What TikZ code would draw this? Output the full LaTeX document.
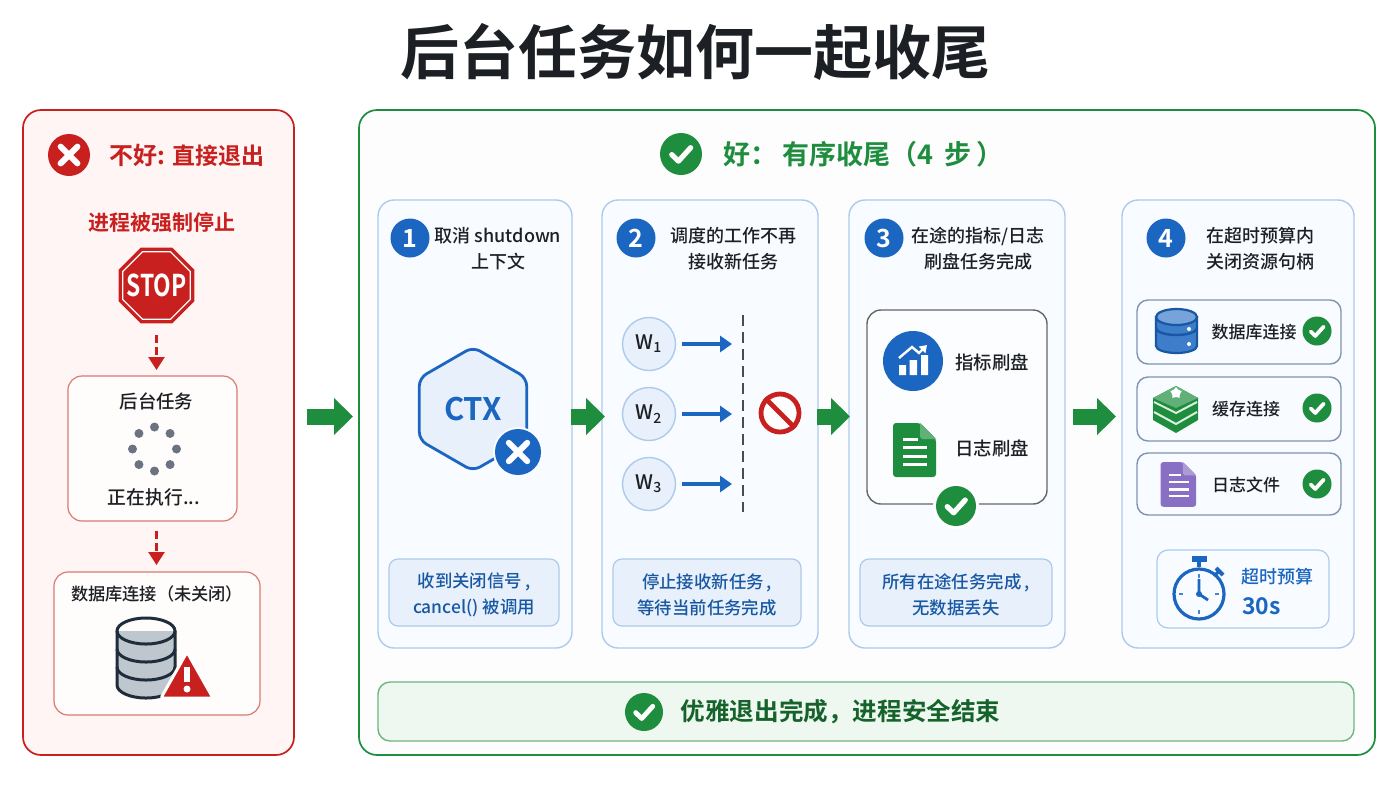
\documentclass[tikz,border=0pt]{standalone}
\usepackage{fontspec}
\setmainfont{Noto Sans CJK SC Medium}[BoldFont={Noto Sans CJK SC Bold}]
\newfontfamily\signfont{Noto Sans CJK SC Bold}[FakeStretch=0.76]
\usepackage{xcolor}
\usetikzlibrary{
    arrows.meta,
    shapes.geometric,
    calc
}
\definecolor{badred}{HTML}{C8201E}
\definecolor{badline}{HTML}{DA7A72}
\definecolor{badfill}{HTML}{FFF5F4}
\definecolor{okgreen}{HTML}{1E8E3E}
\definecolor{stepblue}{HTML}{1B66C0}
\definecolor{stepline}{HTML}{AECAEA}
\definecolor{stepfill}{HTML}{F8FBFF}
\definecolor{notefill}{HTML}{E8F1FB}
\definecolor{inktext}{HTML}{1C1F23}
\definecolor{slateline}{HTML}{7F93AE}
\definecolor{dotgray}{HTML}{6B7280}
\definecolor{dbstroke}{HTML}{1F2D3A}
\definecolor{dbfill}{HTML}{BFC7CE}
\definecolor{filepurple}{HTML}{8A70C4}
\tikzset{
    bigtip /.tip = {Triangle[length=9.5pt,width=18pt]}
  }
\tikzset{
    dashtip /.tip = {Triangle[length=6.5pt,width=8pt]}
  }
\tikzset{
    bluetip /.tip = {Triangle[length=6pt,width=8pt]}
  }
\tikzset{
    wh/.style 2 args={minimum width=#1*0.5pt,minimum height=#2*0.5pt},
    boxnode/.style={draw,rectangle,inner sep=0pt,outer sep=0pt},
    textsize/.style={font=\fontsize{#1}{13}\selectfont,text=inktext,inner sep=0pt,align=center},
    okmark/.pic={
        \fill[okgreen] (0,0) circle (1);
        \draw[white,line cap=round,line join=round] (-0.44,0.03) -- (-0.12,0.34) -- (0.46,-0.3);
      },
    xmark/.pic={
        \fill[#1] (0,0) circle (1);
        \draw[white,line cap=round] (-0.4,-0.4) -- (0.4,0.4) (-0.4,0.4) -- (0.4,-0.4);
      },
    docicon/.pic={
        \fill[#1,rounded corners=1.5pt] (0,0) -- (27,0) -- (43,16) -- (43,54) -- (0,54) -- cycle;
        \fill[#1!70!white] (27,0) -- (43,16) -- (29,16) -- (27,14) -- cycle;
        \draw[white] (10,16) -- (25,16) (10,24) -- (34,24) (10,33) -- (34,33) (10,41) -- (34,41);
      }
  }
\begin{document}
\begin{tikzpicture}[x=0.5pt,y=-0.5pt,
		panel/.style={boxnode,rounded corners=9pt,line width=0.85pt},
		stepbox/.style={boxnode,rounded corners=8pt,line width=0.7pt,draw=stepline,fill=stepfill},
		notebox/.style={boxnode,rounded corners=4.5pt,line width=0.6pt,draw=stepline,fill=notefill},
		notetext/.style={textsize=8.7,text=stepblue!85!black},
		itembox/.style={boxnode,rounded corners=5.5pt,line width=0.7pt,draw=slateline,fill=stepfill},
		numdot/.style={circle,fill=stepblue,text=white,inner sep=0pt,minimum size=19.5pt,font=\fontsize{12.5}{13}\selectfont\bfseries},
		wdot/.style={circle,draw=stepline,fill=notefill,line width=0.7pt,inner sep=0pt,minimum size=26.5pt,text=inktext,font=\fontsize{10}{13}\selectfont},
		greenflow/.style={-bigtip,okgreen,line width=8pt},
		reddash/.style={-dashtip,badred,line width=1.2pt,dash pattern=on 4pt off 2pt},
		blueflow/.style={-bluetip,stepblue,line width=1.6pt}]
				\useasboundingbox (0,0) rectangle (1400,788);
				\node at (695,52) [textsize=29.5,font=\fontsize{29.5}{34}\selectfont\bfseries] (title) {后台任务如何一起收尾};

				\node at (158.5,432.5) [panel,wh={271}{645},draw=badred,fill=badfill] (badpanel) {};
				\pic[scale=21,line width=3pt] at (69,155) {xmark=badred};
				\node at (109,155) [anchor=west,textsize=12,text=badred,font=\fontsize{12}{13}\selectfont\bfseries] (badhead) {不好: {\fontsize{11.5}{13}\selectfont 直接退出}};
				\node at (162,223) [textsize=10.5,text=badred,font=\fontsize{10.5}{13}\selectfont\bfseries] (forced) {进程被强制停止};
				\node at (156.5,285.5) [regular polygon,regular polygon sides=8,minimum size=41pt,fill=badred,inner sep=0pt,outer sep=0pt] (stopsign) {};
				\node at (156.5,285.5) [regular polygon,regular polygon sides=8,minimum size=36.5pt,draw=white,line width=0.6pt,inner sep=0pt] (stoprim) {};
				\node at (156.5,285.5) [inner sep=0pt,text=white,font=\signfont\fontsize{15}{15}\selectfont] (stoptext) {STOP};
				\node at (152.5,448.5) [boxnode,wh={169}{145},rounded corners=7pt,line width=0.6pt,draw=badline,fill=white!70!badfill] (taskbox) {};
				\node at (156.5,401) [textsize=9.2] (tasktitle) {后台任务};
				\foreach \a in {0,45,...,315}
					\fill[dotgray] (154.5,449) ++(\a:22) circle (4.5);
				\node at (154,497) [textsize=9.4] (taskstate) {正在执行...};
				\node at (157,643.5) [boxnode,wh={206}{143},rounded corners=7pt,line width=0.6pt,draw=badline,fill=white!70!badfill] (dbbox) {};
				\node at (157,594) [textsize=8.6] (dbtitle) {数据库连接（未关闭）};
				\draw[reddash] ($(stopsign.south)+(0,12)$) -- (stopsign.south |- 0,370);
				\draw[reddash] ($(taskbox.south -| stopsign)+(0,10)$) -- (stopsign |- 0,565);

				\fill[dbfill] (117,631) -- (117,685) arc[start angle=180,end angle=0,x radius=29,y radius=13] -- (175,631) -- cycle;
				\draw[line width=1.5pt,dbstroke] (117,631) -- (117,685) arc[start angle=180,end angle=0,x radius=29,y radius=13] -- (175,631);
				\draw[line width=1.5pt,dbstroke] (146,631) circle[x radius=29,y radius=13];
				\foreach \y in {649,667}
					\draw[line width=1.5pt,dbstroke] (117,\y) arc[start angle=180,end angle=0,x radius=29,y radius=13];
				\draw[white,fill=badred,line width=1.5pt,line join=round,rounded corners=1pt] (187,652) -- (213,698) -- (161,698) -- cycle;
				\draw[white,line width=3pt] (187,667) -- (187,682);
				\fill[white] (187,689) circle (3.5);

				\node at (867,432.5) [panel,wh={1016}{645},draw=okgreen,fill=okgreen!1.5!white] (goodpanel) {};
				\pic[scale=21,line width=2.6pt] at (681,154) {okmark};
				\node at (723,154) [anchor=west,textsize=13.5,text=okgreen,font=\fontsize{13.5}{13}\selectfont\bfseries] (goodhead) {好：\hspace{2.5pt}有序收尾（4\hspace{2.5pt} 步\hspace{2.5pt}）};

				\node at (475,424) [stepbox,wh={194}{448}] (step1) {};
				\node at (710,424) [stepbox,wh={216}{448}] (step2) {};
				\node at (957,424) [stepbox,wh={216}{448}] (step3) {};
				\node at (1238,424) [stepbox,wh={232}{448}] (step4) {};
				\node at (410,238) [numdot] (num1) {1};
				\node at (636,238) [numdot] (num2) {2};
				\node at (884,238) [numdot] (num3) {3};
				\node at (1166,238) [numdot] (num4) {4};
				\node at (498,249) [textsize=9] (title1) {取消 shutdown\\上下文};
				\node at (733,249) [textsize=9] (title2) {调度的工作不再\\接收新任务};
				\node at (978,249) [textsize=9] (title3) {在途的指标/日志\\刷盘任务完成};
				\node at (1260,249) [textsize=9] (title4) {在超时预算内\\关闭资源句柄};
				\node at (474,592.5) [notebox,wh={170}{67}] (note1) {};
				\node at (707,592.5) [notebox,wh={188}{67}] (note2) {};
				\node at (956,592.5) [notebox,wh={192}{67}] (note3) {};
				\node at (474,595) [notetext] (notetext1) {收到关闭信号\,,\\cancel() 被调用};
				\node at (707,595) [notetext] (notetext2) {停止接收新任务\,,\\等待当前任务完成};
				\node at (956,595) [notetext] (notetext3) {所有在途任务完成\,,\\无数据丢失};

				\node at (473,409) [regular polygon,regular polygon sides=6,shape border rotate=30,minimum size=62pt,rounded corners=4pt,draw=stepblue,fill=notefill,line width=1.4pt,inner sep=0pt,text=stepblue,font=\fontsize{15.5}{16}\selectfont\bfseries] (ctx) {CTX};
				\fill[stepfill] (518,452) circle (25);
				\pic[scale=23,line width=3pt] at (518,452) {xmark=stepblue};

				\node at (649,344) [wdot] (w1) {W\textsubscript{1}};
				\node at (649,414) [wdot] (w2) {W\textsubscript{2}};
				\node at (649,484) [wdot] (w3) {W\textsubscript{3}};
				\coordinate (stop1) at (732,344);
				\coordinate (stop2) at (732,414);
				\coordinate (stop3) at (732,484);
				\draw[blueflow,shorten <=3pt] (w1) -- (stop1);
				\draw[blueflow,shorten <=3pt] (w2) -- (stop2);
				\draw[blueflow,shorten <=3pt] (w3) -- (stop3);
				\coordinate (barrierup) at (743,315);
				\coordinate (barrierdown) at (743,512);
				\draw[black!70,line width=0.9pt,dash pattern=on 5.5pt off 3pt] (barrierup) -- (barrierdown);
				\node at (780,413) [circle,draw=badred,fill=white,line width=2.4pt,inner sep=0pt,minimum size=19pt] (noentry) {};
				\draw[badred,line width=2.4pt] (noentry.north west) -- (noentry.south east);

				\node at (957,407) [itembox,wh={180}{194},rounded corners=7pt,draw=gray!80!black,fill=white!60!stepfill] (flushbox) {};
				\node at (913,361) [circle,fill=stepblue,minimum size=30pt,inner sep=0pt] (chartdot) {};
				\fill[white] (899,365) rectangle (906,375) (909.5,360) rectangle (917,375) (921,355) rectangle (928,375);
				\draw[white,line width=1.2pt,-{Triangle[length=3.5pt,width=4.5pt]}] (899,358) -- (912,347) -- (919,353) -- (927,345);
				\node at (992,362) [textsize=9.2] (flush1) {指标刷盘};
				\pic[line width=1.5pt] at (893,423) {docicon=okgreen};
				\node at (992,448) [textsize=9.2] (flush2) {日志刷盘};
				\fill[white] (956,506) circle (23);
				\pic[scale=20,line width=2.6pt] at (956,506) {okmark};

				\node at (1239,332) [itembox,wh={204}{64}] (item1) {};
				\node at (1239,409) [itembox,wh={204}{64}] (item2) {};
				\node at (1239,484) [itembox,wh={204}{62}] (item3) {};
				\node at (1254,332) [textsize=8.5] (itemtext1) {数据库连接};
				\node at (1246,409) [textsize=8.5] (itemtext2) {缓存连接};
				\node at (1246,485) [textsize=8.5] (itemtext3) {日志文件};
				\pic[scale=14.5,line width=1.9pt] at (1317,331) {okmark};
				\pic[scale=14.5,line width=1.9pt] at (1317,408) {okmark};
				\pic[scale=14.5,line width=1.9pt] at (1317,484) {okmark};

				\draw[stepblue!85!black,fill=stepblue!85!white,line width=1.1pt] (1156,317) -- (1156,346) arc[start angle=180,end angle=0,x radius=20.5,y radius=7] -- (1197,317) -- cycle;
				\draw[stepblue!85!black,line width=1.2pt] (1156,328) arc[start angle=180,end angle=0,x radius=20.5,y radius=7];
				\draw[stepblue!85!black,fill=stepblue!60!white,line width=1.1pt] (1176.5,317) circle[x radius=20.5,y radius=8];
				\fill[white] (1189,329) circle (2) (1189,344) circle (2);

				\fill[okgreen] (1153,398) -- (1176,386) -- (1198,398) -- (1198,420) -- (1176,433) -- (1153,420) -- cycle;
				\fill[okgreen!70!white] (1153,398) -- (1176,386) -- (1198,398) -- (1176,408) -- cycle;
				\draw[white!85!okgreen,line width=1pt] (1154,402) -- (1176,413) -- (1197,402) (1154,412) -- (1176,424) -- (1197,412);
				\node at (1176,393) [star,star points=5,fill=white,inner sep=0pt,minimum size=6pt] (redisstar) {};

				\pic[scale=0.83,line width=1.1pt] at (1160.5,462) {docicon=filepurple};

				\node at (1243,589) [boxnode,wh={172}{78},rounded corners=5.5pt,line width=0.6pt,draw=stepline,fill=stepfill] (budgetbox) {};
				\node at (1199,594) [circle,draw=stepblue,line width=1.6pt,minimum size=25pt,inner sep=0pt] (watch) {};
				\draw[stepblue,line width=2.6pt] (1192,559) -- (1207,559);
				\draw[stepblue,line width=2pt] (1199,559) -- (watch.north);
				\draw[stepblue,line width=1.6pt] (1214,576) -- (1220,570);
				\draw[stepblue,line width=2pt] (1216,568) -- (1223,575);
				\foreach \a in {0,90,180,270}
					\draw[stepblue!80!white,line width=0.7pt] (1199,594) ++(\a:16) -- ++(\a:4);
				\draw[stepblue,line width=1.4pt,line join=round] (1199,579) -- (1199,594) -- (1208,600);
				\fill[stepblue] (1199,594) circle (3);
				\node at (1277,577) [textsize=9,text=stepblue] (budget1) {超时预算};
				\node at (1242,606) [textsize=11,anchor=west,text=stepblue,font=\fontsize{11.5}{13}\selectfont\bfseries] (budget2) {30s};

				\node at (866,711.5) [boxnode,wh={976}{59},rounded corners=6pt,line width=0.7pt,draw=okgreen!65!white,fill=okgreen!7!white] (donebar) {};
				\pic[scale=19,line width=2.4pt] at (644,712) {okmark};
				\node at (840.5,712) [textsize=12.3,font=\fontsize{12.3}{13}\selectfont\bfseries,text=okgreen!70!black] (donetext) {优雅退出完成，进程安全结束};

				\coordinate (flow1a) at (307,416.5);
				\coordinate (flow1b) at (353,416.5);
				\coordinate (flow2a) at (571,416.5);
				\coordinate (flow2b) at (605,416.5);
				\coordinate (flow3a) at (817,416.5);
				\coordinate (flow3b) at (850,416.5);
				\coordinate (flow4a) at (1073,416.5);
				\coordinate (flow4b) at (1116,416.5);
				\draw[greenflow] (flow1a) -- (flow1b);
				\draw[greenflow] (flow2a) -- (flow2b);
				\draw[greenflow] (flow3a) -- (flow3b);
				\draw[greenflow] (flow4a) -- (flow4b);
			\end{tikzpicture}
\end{document}
